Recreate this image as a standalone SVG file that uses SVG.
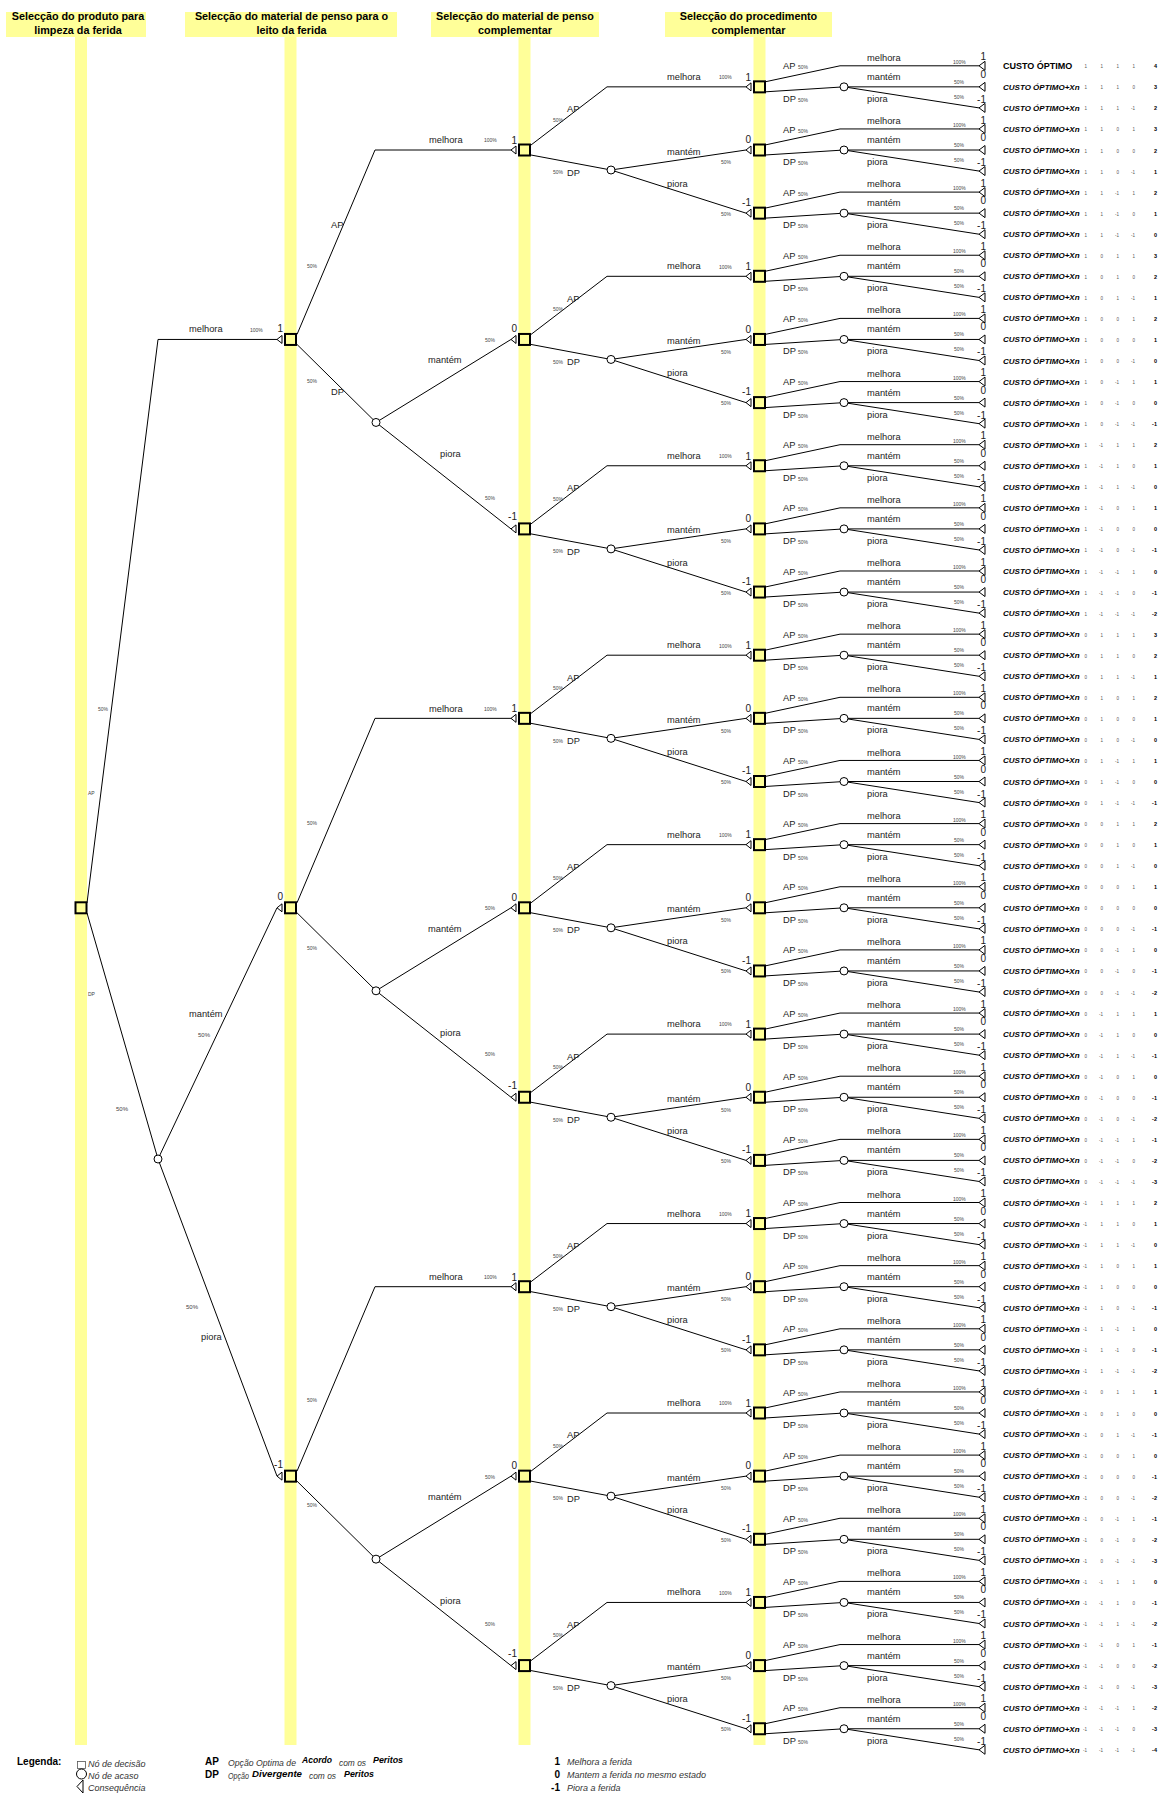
<svg xmlns="http://www.w3.org/2000/svg" xmlns:xlink="http://www.w3.org/1999/xlink" width="1168" height="1796" viewBox="0 0 1168 1796">
<style>
text{font-family:"Liberation Sans",Arial,sans-serif}
.bar{fill:#FFFF99}
.h{font-size:10.8px;font-weight:bold;text-anchor:middle;fill:#000}
.l{font-size:9.3px;fill:#222}
.p{font-size:5px;fill:#444}
.p6{font-size:6px;fill:#444}
.v{font-size:10px;fill:#222;text-anchor:end}
.c0{font-size:9px;font-weight:bold}
.cx{font-size:8px;font-weight:bold;font-style:italic}
.n{font-size:4.5px;fill:#555;text-anchor:end}
.tot{font-size:5.5px;font-weight:bold;text-anchor:end}
.lg{font-size:9px;font-style:italic;fill:#333}
.lb{font-size:9px;font-style:italic;font-weight:bold;fill:#000}
.lk{font-size:10px;font-weight:bold;fill:#000}
</style>
<defs>
<rect id="sq" x="-5.5" y="-5.5" width="11" height="11" fill="none" stroke="#000" stroke-width="2"/>
<circle id="cn" r="4" fill="#fff" stroke="#000" stroke-width="1"/>
<path id="ar" d="M0,0L5,-4V4Z" fill="#fff" stroke="#000" stroke-width="1"/>
<path id="tt" d="M0,0L6,-4.5V4.5Z" fill="#fff" stroke="#000" stroke-width="1"/>
</defs>
<rect width="1168" height="1796" fill="#fff"/>
<g id="columns">
<rect class="bar" x="75" y="37" width="12" height="1708"/>
<rect class="bar" x="284.5" y="37" width="12" height="1708"/>
<rect class="bar" x="518.5" y="37" width="12" height="1708"/>
<rect class="bar" x="753.5" y="37" width="12" height="1708"/>
<rect class="bar" x="6" y="12" width="140" height="25"/>
<rect class="bar" x="185" y="12" width="212" height="25"/>
<rect class="bar" x="431" y="12" width="168" height="25"/>
<rect class="bar" x="665" y="12" width="167" height="25"/>
<text class="h" x="78" y="20">Selecção do produto para</text>
<text class="h" x="78" y="33.5">limpeza da ferida</text>
<text class="h" x="291.5" y="20">Selecção do material de penso para o</text>
<text class="h" x="291.5" y="33.5">leito da ferida</text>
<text class="h" x="515" y="20">Selecção do material de penso</text>
<text class="h" x="515" y="33.5">complementar</text>
<text class="h" x="748.5" y="20">Selecção do procedimento</text>
<text class="h" x="748.5" y="33.5">complementar</text>
</g>
<g id="connectors" fill="none" stroke="#000" stroke-width="1">
<path d="M87,903L158,339.45H277M87,913L158,1159M158,1159L277,907.8M158,1159L277,1476.15"/>
<path transform="translate(0,339.45)" d="M297,-5L375,-189.45H511M297,5L376,83M376,83L511,0M376,83L511,189.45"/>
<path transform="translate(0,907.8)" d="M297,-5L375,-189.45H511M297,5L376,83M376,83L511,0M376,83L511,189.45"/>
<path transform="translate(0,1476.15)" d="M297,-5L375,-189.45H511M297,5L376,83M376,83L511,0M376,83L511,189.45"/>
<path transform="translate(0,150)" d="M531,-5L607,-63.15H746M531,5L611,20L746,0M611,20L746,63.15"/>
<path transform="translate(0,339.45)" d="M531,-5L607,-63.15H746M531,5L611,20L746,0M611,20L746,63.15"/>
<path transform="translate(0,528.9)" d="M531,-5L607,-63.15H746M531,5L611,20L746,0M611,20L746,63.15"/>
<path transform="translate(0,718.35)" d="M531,-5L607,-63.15H746M531,5L611,20L746,0M611,20L746,63.15"/>
<path transform="translate(0,907.8)" d="M531,-5L607,-63.15H746M531,5L611,20L746,0M611,20L746,63.15"/>
<path transform="translate(0,1097.25)" d="M531,-5L607,-63.15H746M531,5L611,20L746,0M611,20L746,63.15"/>
<path transform="translate(0,1286.7)" d="M531,-5L607,-63.15H746M531,5L611,20L746,0M611,20L746,63.15"/>
<path transform="translate(0,1476.15)" d="M531,-5L607,-63.15H746M531,5L611,20L746,0M611,20L746,63.15"/>
<path transform="translate(0,1665.6)" d="M531,-5L607,-63.15H746M531,5L611,20L746,0M611,20L746,63.15"/>
<path transform="translate(0,86.85)" d="M765,-5L840,-21.05H979M765,5L844,0H979M844,0L979,21.05"/>
<path transform="translate(0,150)" d="M765,-5L840,-21.05H979M765,5L844,0H979M844,0L979,21.05"/>
<path transform="translate(0,213.15)" d="M765,-5L840,-21.05H979M765,5L844,0H979M844,0L979,21.05"/>
<path transform="translate(0,276.3)" d="M765,-5L840,-21.05H979M765,5L844,0H979M844,0L979,21.05"/>
<path transform="translate(0,339.45)" d="M765,-5L840,-21.05H979M765,5L844,0H979M844,0L979,21.05"/>
<path transform="translate(0,402.6)" d="M765,-5L840,-21.05H979M765,5L844,0H979M844,0L979,21.05"/>
<path transform="translate(0,465.75)" d="M765,-5L840,-21.05H979M765,5L844,0H979M844,0L979,21.05"/>
<path transform="translate(0,528.9)" d="M765,-5L840,-21.05H979M765,5L844,0H979M844,0L979,21.05"/>
<path transform="translate(0,592.05)" d="M765,-5L840,-21.05H979M765,5L844,0H979M844,0L979,21.05"/>
<path transform="translate(0,655.2)" d="M765,-5L840,-21.05H979M765,5L844,0H979M844,0L979,21.05"/>
<path transform="translate(0,718.35)" d="M765,-5L840,-21.05H979M765,5L844,0H979M844,0L979,21.05"/>
<path transform="translate(0,781.5)" d="M765,-5L840,-21.05H979M765,5L844,0H979M844,0L979,21.05"/>
<path transform="translate(0,844.65)" d="M765,-5L840,-21.05H979M765,5L844,0H979M844,0L979,21.05"/>
<path transform="translate(0,907.8)" d="M765,-5L840,-21.05H979M765,5L844,0H979M844,0L979,21.05"/>
<path transform="translate(0,970.95)" d="M765,-5L840,-21.05H979M765,5L844,0H979M844,0L979,21.05"/>
<path transform="translate(0,1034.1)" d="M765,-5L840,-21.05H979M765,5L844,0H979M844,0L979,21.05"/>
<path transform="translate(0,1097.25)" d="M765,-5L840,-21.05H979M765,5L844,0H979M844,0L979,21.05"/>
<path transform="translate(0,1160.4)" d="M765,-5L840,-21.05H979M765,5L844,0H979M844,0L979,21.05"/>
<path transform="translate(0,1223.55)" d="M765,-5L840,-21.05H979M765,5L844,0H979M844,0L979,21.05"/>
<path transform="translate(0,1286.7)" d="M765,-5L840,-21.05H979M765,5L844,0H979M844,0L979,21.05"/>
<path transform="translate(0,1349.85)" d="M765,-5L840,-21.05H979M765,5L844,0H979M844,0L979,21.05"/>
<path transform="translate(0,1413)" d="M765,-5L840,-21.05H979M765,5L844,0H979M844,0L979,21.05"/>
<path transform="translate(0,1476.15)" d="M765,-5L840,-21.05H979M765,5L844,0H979M844,0L979,21.05"/>
<path transform="translate(0,1539.3)" d="M765,-5L840,-21.05H979M765,5L844,0H979M844,0L979,21.05"/>
<path transform="translate(0,1602.45)" d="M765,-5L840,-21.05H979M765,5L844,0H979M844,0L979,21.05"/>
<path transform="translate(0,1665.6)" d="M765,-5L840,-21.05H979M765,5L844,0H979M844,0L979,21.05"/>
<path transform="translate(0,1728.75)" d="M765,-5L840,-21.05H979M765,5L844,0H979M844,0L979,21.05"/>
</g>
<g id="nodes">
<g id="root"><use href="#sq" x="81" y="907.8"/></g>
<g id="c_root"><use href="#cn" x="158" y="1159"/></g>
<g id="d2_0" transform="translate(0,339.45)"><use href="#ar" x="277"/><use href="#sq" x="290.5"/></g>
<g id="d2_1" transform="translate(0,907.8)"><use href="#ar" x="277"/><use href="#sq" x="290.5"/></g>
<g id="d2_2" transform="translate(0,1476.15)"><use href="#ar" x="277"/><use href="#sq" x="290.5"/></g>
<g id="c2_0" transform="translate(0,339.45)"><use href="#cn" x="376" y="83"/></g>
<g id="c2_1" transform="translate(0,907.8)"><use href="#cn" x="376" y="83"/></g>
<g id="c2_2" transform="translate(0,1476.15)"><use href="#cn" x="376" y="83"/></g>
<g id="d3_0" transform="translate(0,150)"><use href="#ar" x="511"/><use href="#sq" x="524.5"/></g>
<g id="d3_1" transform="translate(0,339.45)"><use href="#ar" x="511"/><use href="#sq" x="524.5"/></g>
<g id="d3_2" transform="translate(0,528.9)"><use href="#ar" x="511"/><use href="#sq" x="524.5"/></g>
<g id="d3_3" transform="translate(0,718.35)"><use href="#ar" x="511"/><use href="#sq" x="524.5"/></g>
<g id="d3_4" transform="translate(0,907.8)"><use href="#ar" x="511"/><use href="#sq" x="524.5"/></g>
<g id="d3_5" transform="translate(0,1097.25)"><use href="#ar" x="511"/><use href="#sq" x="524.5"/></g>
<g id="d3_6" transform="translate(0,1286.7)"><use href="#ar" x="511"/><use href="#sq" x="524.5"/></g>
<g id="d3_7" transform="translate(0,1476.15)"><use href="#ar" x="511"/><use href="#sq" x="524.5"/></g>
<g id="d3_8" transform="translate(0,1665.6)"><use href="#ar" x="511"/><use href="#sq" x="524.5"/></g>
<g id="c3_0" transform="translate(0,150)"><use href="#cn" x="611" y="20"/></g>
<g id="c3_1" transform="translate(0,339.45)"><use href="#cn" x="611" y="20"/></g>
<g id="c3_2" transform="translate(0,528.9)"><use href="#cn" x="611" y="20"/></g>
<g id="c3_3" transform="translate(0,718.35)"><use href="#cn" x="611" y="20"/></g>
<g id="c3_4" transform="translate(0,907.8)"><use href="#cn" x="611" y="20"/></g>
<g id="c3_5" transform="translate(0,1097.25)"><use href="#cn" x="611" y="20"/></g>
<g id="c3_6" transform="translate(0,1286.7)"><use href="#cn" x="611" y="20"/></g>
<g id="c3_7" transform="translate(0,1476.15)"><use href="#cn" x="611" y="20"/></g>
<g id="c3_8" transform="translate(0,1665.6)"><use href="#cn" x="611" y="20"/></g>
<g id="d4_0" transform="translate(0,86.85)"><use href="#ar" x="746"/><use href="#sq" x="759.5"/><use href="#cn" x="844"/></g>
<g id="d4_1" transform="translate(0,150)"><use href="#ar" x="746"/><use href="#sq" x="759.5"/><use href="#cn" x="844"/></g>
<g id="d4_2" transform="translate(0,213.15)"><use href="#ar" x="746"/><use href="#sq" x="759.5"/><use href="#cn" x="844"/></g>
<g id="d4_3" transform="translate(0,276.3)"><use href="#ar" x="746"/><use href="#sq" x="759.5"/><use href="#cn" x="844"/></g>
<g id="d4_4" transform="translate(0,339.45)"><use href="#ar" x="746"/><use href="#sq" x="759.5"/><use href="#cn" x="844"/></g>
<g id="d4_5" transform="translate(0,402.6)"><use href="#ar" x="746"/><use href="#sq" x="759.5"/><use href="#cn" x="844"/></g>
<g id="d4_6" transform="translate(0,465.75)"><use href="#ar" x="746"/><use href="#sq" x="759.5"/><use href="#cn" x="844"/></g>
<g id="d4_7" transform="translate(0,528.9)"><use href="#ar" x="746"/><use href="#sq" x="759.5"/><use href="#cn" x="844"/></g>
<g id="d4_8" transform="translate(0,592.05)"><use href="#ar" x="746"/><use href="#sq" x="759.5"/><use href="#cn" x="844"/></g>
<g id="d4_9" transform="translate(0,655.2)"><use href="#ar" x="746"/><use href="#sq" x="759.5"/><use href="#cn" x="844"/></g>
<g id="d4_10" transform="translate(0,718.35)"><use href="#ar" x="746"/><use href="#sq" x="759.5"/><use href="#cn" x="844"/></g>
<g id="d4_11" transform="translate(0,781.5)"><use href="#ar" x="746"/><use href="#sq" x="759.5"/><use href="#cn" x="844"/></g>
<g id="d4_12" transform="translate(0,844.65)"><use href="#ar" x="746"/><use href="#sq" x="759.5"/><use href="#cn" x="844"/></g>
<g id="d4_13" transform="translate(0,907.8)"><use href="#ar" x="746"/><use href="#sq" x="759.5"/><use href="#cn" x="844"/></g>
<g id="d4_14" transform="translate(0,970.95)"><use href="#ar" x="746"/><use href="#sq" x="759.5"/><use href="#cn" x="844"/></g>
<g id="d4_15" transform="translate(0,1034.1)"><use href="#ar" x="746"/><use href="#sq" x="759.5"/><use href="#cn" x="844"/></g>
<g id="d4_16" transform="translate(0,1097.25)"><use href="#ar" x="746"/><use href="#sq" x="759.5"/><use href="#cn" x="844"/></g>
<g id="d4_17" transform="translate(0,1160.4)"><use href="#ar" x="746"/><use href="#sq" x="759.5"/><use href="#cn" x="844"/></g>
<g id="d4_18" transform="translate(0,1223.55)"><use href="#ar" x="746"/><use href="#sq" x="759.5"/><use href="#cn" x="844"/></g>
<g id="d4_19" transform="translate(0,1286.7)"><use href="#ar" x="746"/><use href="#sq" x="759.5"/><use href="#cn" x="844"/></g>
<g id="d4_20" transform="translate(0,1349.85)"><use href="#ar" x="746"/><use href="#sq" x="759.5"/><use href="#cn" x="844"/></g>
<g id="d4_21" transform="translate(0,1413)"><use href="#ar" x="746"/><use href="#sq" x="759.5"/><use href="#cn" x="844"/></g>
<g id="d4_22" transform="translate(0,1476.15)"><use href="#ar" x="746"/><use href="#sq" x="759.5"/><use href="#cn" x="844"/></g>
<g id="d4_23" transform="translate(0,1539.3)"><use href="#ar" x="746"/><use href="#sq" x="759.5"/><use href="#cn" x="844"/></g>
<g id="d4_24" transform="translate(0,1602.45)"><use href="#ar" x="746"/><use href="#sq" x="759.5"/><use href="#cn" x="844"/></g>
<g id="d4_25" transform="translate(0,1665.6)"><use href="#ar" x="746"/><use href="#sq" x="759.5"/><use href="#cn" x="844"/></g>
<g id="d4_26" transform="translate(0,1728.75)"><use href="#ar" x="746"/><use href="#sq" x="759.5"/><use href="#cn" x="844"/></g>
</g>
<g id="labels" class="l">
<text class="p" x="98" y="711">50%</text><text class="p" x="88" y="795">AP</text><text class="p" x="88" y="996">DP</text><text class="p6" x="116" y="1111">50%</text>
<text x="189" y="332">melhora</text><text class="p" x="250" y="332">100%</text><text class="v" x="283" y="332">1</text>
<text x="189" y="1017">mantém</text><text class="p6" x="198" y="1037">50%</text><text class="v" x="283" y="900">0</text>
<text x="201" y="1340">piora</text><text class="p6" x="186" y="1309">50%</text><text class="v" x="283" y="1468">-1</text>
<g transform="translate(0,339.45)"><text x="331" y="-111">AP</text><text class="p" x="307" y="-71">50%</text><text class="p" x="307" y="44">50%</text><text x="331" y="56">DP</text><text x="429" y="-196.2">melhora</text><text class="p" x="484" y="-197">100%</text><text class="v" x="517" y="-195.5">1</text><text x="428" y="24">mantém</text><text class="p" x="485" y="2.5">50%</text><text class="v" x="517" y="-7">0</text><text x="440" y="118">piora</text><text class="p" x="485" y="161">50%</text><text class="v" x="517" y="181">-1</text></g>
<g transform="translate(0,907.8)"><text class="p" x="307" y="-83">50%</text><text class="p" x="307" y="42">50%</text><text x="429" y="-196.2">melhora</text><text class="p" x="484" y="-197">100%</text><text class="v" x="517" y="-195.5">1</text><text x="428" y="24">mantém</text><text class="p" x="485" y="2.5">50%</text><text class="v" x="517" y="-7">0</text><text x="440" y="128">piora</text><text class="p" x="485" y="148">50%</text><text class="v" x="517" y="181">-1</text></g>
<g transform="translate(0,1476.15)"><text class="p" x="307" y="-74">50%</text><text class="p" x="307" y="31">50%</text><text x="429" y="-196.2">melhora</text><text class="p" x="484" y="-197">100%</text><text class="v" x="517" y="-195.5">1</text><text x="428" y="24">mantém</text><text class="p" x="485" y="2.5">50%</text><text class="v" x="517" y="-7">0</text><text x="440" y="128">piora</text><text class="p" x="485" y="150">50%</text><text class="v" x="517" y="181">-1</text></g>
<g transform="translate(0,150)"><text x="567" y="-37.7">AP</text><text class="p" x="553" y="-28.3">50%</text><text class="p" x="553" y="24.3">50%</text><text x="567" y="25.7">DP</text><text x="667" y="-70.2">melhora</text><text class="p" x="719" y="-70.8">100%</text><text class="v" x="751" y="-69.4">1</text><text x="667" y="4.5">mantém</text><text class="p" x="721" y="14.3">50%</text><text class="v" x="751" y="-6.7">0</text><text x="667" y="36.7">piora</text><text class="p" x="721" y="65.7">50%</text><text class="v" x="751" y="56">-1</text></g>
<g transform="translate(0,339.45)"><text x="567" y="-37.7">AP</text><text class="p" x="553" y="-28.3">50%</text><text class="p" x="553" y="24.3">50%</text><text x="567" y="25.7">DP</text><text x="667" y="-70.2">melhora</text><text class="p" x="719" y="-70.8">100%</text><text class="v" x="751" y="-69.4">1</text><text x="667" y="4.5">mantém</text><text class="p" x="721" y="14.3">50%</text><text class="v" x="751" y="-6.7">0</text><text x="667" y="36.7">piora</text><text class="p" x="721" y="65.7">50%</text><text class="v" x="751" y="56">-1</text></g>
<g transform="translate(0,528.9)"><text x="567" y="-37.7">AP</text><text class="p" x="553" y="-28.3">50%</text><text class="p" x="553" y="24.3">50%</text><text x="567" y="25.7">DP</text><text x="667" y="-70.2">melhora</text><text class="p" x="719" y="-70.8">100%</text><text class="v" x="751" y="-69.4">1</text><text x="667" y="4.5">mantém</text><text class="p" x="721" y="14.3">50%</text><text class="v" x="751" y="-6.7">0</text><text x="667" y="36.7">piora</text><text class="p" x="721" y="65.7">50%</text><text class="v" x="751" y="56">-1</text></g>
<g transform="translate(0,718.35)"><text x="567" y="-37.7">AP</text><text class="p" x="553" y="-28.3">50%</text><text class="p" x="553" y="24.3">50%</text><text x="567" y="25.7">DP</text><text x="667" y="-70.2">melhora</text><text class="p" x="719" y="-70.8">100%</text><text class="v" x="751" y="-69.4">1</text><text x="667" y="4.5">mantém</text><text class="p" x="721" y="14.3">50%</text><text class="v" x="751" y="-6.7">0</text><text x="667" y="36.7">piora</text><text class="p" x="721" y="65.7">50%</text><text class="v" x="751" y="56">-1</text></g>
<g transform="translate(0,907.8)"><text x="567" y="-37.7">AP</text><text class="p" x="553" y="-28.3">50%</text><text class="p" x="553" y="24.3">50%</text><text x="567" y="25.7">DP</text><text x="667" y="-70.2">melhora</text><text class="p" x="719" y="-70.8">100%</text><text class="v" x="751" y="-69.4">1</text><text x="667" y="4.5">mantém</text><text class="p" x="721" y="14.3">50%</text><text class="v" x="751" y="-6.7">0</text><text x="667" y="36.7">piora</text><text class="p" x="721" y="65.7">50%</text><text class="v" x="751" y="56">-1</text></g>
<g transform="translate(0,1097.25)"><text x="567" y="-37.7">AP</text><text class="p" x="553" y="-28.3">50%</text><text class="p" x="553" y="24.3">50%</text><text x="567" y="25.7">DP</text><text x="667" y="-70.2">melhora</text><text class="p" x="719" y="-70.8">100%</text><text class="v" x="751" y="-69.4">1</text><text x="667" y="4.5">mantém</text><text class="p" x="721" y="14.3">50%</text><text class="v" x="751" y="-6.7">0</text><text x="667" y="36.7">piora</text><text class="p" x="721" y="65.7">50%</text><text class="v" x="751" y="56">-1</text></g>
<g transform="translate(0,1286.7)"><text x="567" y="-37.7">AP</text><text class="p" x="553" y="-28.3">50%</text><text class="p" x="553" y="24.3">50%</text><text x="567" y="25.7">DP</text><text x="667" y="-70.2">melhora</text><text class="p" x="719" y="-70.8">100%</text><text class="v" x="751" y="-69.4">1</text><text x="667" y="4.5">mantém</text><text class="p" x="721" y="14.3">50%</text><text class="v" x="751" y="-6.7">0</text><text x="667" y="36.7">piora</text><text class="p" x="721" y="65.7">50%</text><text class="v" x="751" y="56">-1</text></g>
<g transform="translate(0,1476.15)"><text x="567" y="-37.7">AP</text><text class="p" x="553" y="-28.3">50%</text><text class="p" x="553" y="24.3">50%</text><text x="567" y="25.7">DP</text><text x="667" y="-70.2">melhora</text><text class="p" x="719" y="-70.8">100%</text><text class="v" x="751" y="-69.4">1</text><text x="667" y="4.5">mantém</text><text class="p" x="721" y="14.3">50%</text><text class="v" x="751" y="-6.7">0</text><text x="667" y="36.7">piora</text><text class="p" x="721" y="65.7">50%</text><text class="v" x="751" y="56">-1</text></g>
<g transform="translate(0,1665.6)"><text x="567" y="-37.7">AP</text><text class="p" x="553" y="-28.3">50%</text><text class="p" x="553" y="24.3">50%</text><text x="567" y="25.7">DP</text><text x="667" y="-70.2">melhora</text><text class="p" x="719" y="-70.8">100%</text><text class="v" x="751" y="-69.4">1</text><text x="667" y="4.5">mantém</text><text class="p" x="721" y="14.3">50%</text><text class="v" x="751" y="-6.7">0</text><text x="667" y="36.7">piora</text><text class="p" x="721" y="65.7">50%</text><text class="v" x="751" y="56">-1</text></g>
<g transform="translate(0,86.85)"><text x="783" y="-17.5">AP</text><text class="p" x="798" y="-17.5">50%</text><text x="783" y="15">DP</text><text class="p" x="798" y="15">50%</text><text x="867" y="-26">melhora</text><text class="p" x="953" y="-23">100%</text><text class="v" x="986" y="-26.5">1</text><text x="867" y="-7">mantém</text><text class="p" x="954" y="-3">50%</text><text class="v" x="986" y="-9">0</text><text x="867" y="15">piora</text><text class="p" x="954" y="12">50%</text><text class="v" x="986" y="16">-1</text></g>
<g transform="translate(0,150)"><text x="783" y="-17.5">AP</text><text class="p" x="798" y="-17.5">50%</text><text x="783" y="15">DP</text><text class="p" x="798" y="15">50%</text><text x="867" y="-26">melhora</text><text class="p" x="953" y="-23">100%</text><text class="v" x="986" y="-26.5">1</text><text x="867" y="-7">mantém</text><text class="p" x="954" y="-3">50%</text><text class="v" x="986" y="-9">0</text><text x="867" y="15">piora</text><text class="p" x="954" y="12">50%</text><text class="v" x="986" y="16">-1</text></g>
<g transform="translate(0,213.15)"><text x="783" y="-17.5">AP</text><text class="p" x="798" y="-17.5">50%</text><text x="783" y="15">DP</text><text class="p" x="798" y="15">50%</text><text x="867" y="-26">melhora</text><text class="p" x="953" y="-23">100%</text><text class="v" x="986" y="-26.5">1</text><text x="867" y="-7">mantém</text><text class="p" x="954" y="-3">50%</text><text class="v" x="986" y="-9">0</text><text x="867" y="15">piora</text><text class="p" x="954" y="12">50%</text><text class="v" x="986" y="16">-1</text></g>
<g transform="translate(0,276.3)"><text x="783" y="-17.5">AP</text><text class="p" x="798" y="-17.5">50%</text><text x="783" y="15">DP</text><text class="p" x="798" y="15">50%</text><text x="867" y="-26">melhora</text><text class="p" x="953" y="-23">100%</text><text class="v" x="986" y="-26.5">1</text><text x="867" y="-7">mantém</text><text class="p" x="954" y="-3">50%</text><text class="v" x="986" y="-9">0</text><text x="867" y="15">piora</text><text class="p" x="954" y="12">50%</text><text class="v" x="986" y="16">-1</text></g>
<g transform="translate(0,339.45)"><text x="783" y="-17.5">AP</text><text class="p" x="798" y="-17.5">50%</text><text x="783" y="15">DP</text><text class="p" x="798" y="15">50%</text><text x="867" y="-26">melhora</text><text class="p" x="953" y="-23">100%</text><text class="v" x="986" y="-26.5">1</text><text x="867" y="-7">mantém</text><text class="p" x="954" y="-3">50%</text><text class="v" x="986" y="-9">0</text><text x="867" y="15">piora</text><text class="p" x="954" y="12">50%</text><text class="v" x="986" y="16">-1</text></g>
<g transform="translate(0,402.6)"><text x="783" y="-17.5">AP</text><text class="p" x="798" y="-17.5">50%</text><text x="783" y="15">DP</text><text class="p" x="798" y="15">50%</text><text x="867" y="-26">melhora</text><text class="p" x="953" y="-23">100%</text><text class="v" x="986" y="-26.5">1</text><text x="867" y="-7">mantém</text><text class="p" x="954" y="-3">50%</text><text class="v" x="986" y="-9">0</text><text x="867" y="15">piora</text><text class="p" x="954" y="12">50%</text><text class="v" x="986" y="16">-1</text></g>
<g transform="translate(0,465.75)"><text x="783" y="-17.5">AP</text><text class="p" x="798" y="-17.5">50%</text><text x="783" y="15">DP</text><text class="p" x="798" y="15">50%</text><text x="867" y="-26">melhora</text><text class="p" x="953" y="-23">100%</text><text class="v" x="986" y="-26.5">1</text><text x="867" y="-7">mantém</text><text class="p" x="954" y="-3">50%</text><text class="v" x="986" y="-9">0</text><text x="867" y="15">piora</text><text class="p" x="954" y="12">50%</text><text class="v" x="986" y="16">-1</text></g>
<g transform="translate(0,528.9)"><text x="783" y="-17.5">AP</text><text class="p" x="798" y="-17.5">50%</text><text x="783" y="15">DP</text><text class="p" x="798" y="15">50%</text><text x="867" y="-26">melhora</text><text class="p" x="953" y="-23">100%</text><text class="v" x="986" y="-26.5">1</text><text x="867" y="-7">mantém</text><text class="p" x="954" y="-3">50%</text><text class="v" x="986" y="-9">0</text><text x="867" y="15">piora</text><text class="p" x="954" y="12">50%</text><text class="v" x="986" y="16">-1</text></g>
<g transform="translate(0,592.05)"><text x="783" y="-17.5">AP</text><text class="p" x="798" y="-17.5">50%</text><text x="783" y="15">DP</text><text class="p" x="798" y="15">50%</text><text x="867" y="-26">melhora</text><text class="p" x="953" y="-23">100%</text><text class="v" x="986" y="-26.5">1</text><text x="867" y="-7">mantém</text><text class="p" x="954" y="-3">50%</text><text class="v" x="986" y="-9">0</text><text x="867" y="15">piora</text><text class="p" x="954" y="12">50%</text><text class="v" x="986" y="16">-1</text></g>
<g transform="translate(0,655.2)"><text x="783" y="-17.5">AP</text><text class="p" x="798" y="-17.5">50%</text><text x="783" y="15">DP</text><text class="p" x="798" y="15">50%</text><text x="867" y="-26">melhora</text><text class="p" x="953" y="-23">100%</text><text class="v" x="986" y="-26.5">1</text><text x="867" y="-7">mantém</text><text class="p" x="954" y="-3">50%</text><text class="v" x="986" y="-9">0</text><text x="867" y="15">piora</text><text class="p" x="954" y="12">50%</text><text class="v" x="986" y="16">-1</text></g>
<g transform="translate(0,718.35)"><text x="783" y="-17.5">AP</text><text class="p" x="798" y="-17.5">50%</text><text x="783" y="15">DP</text><text class="p" x="798" y="15">50%</text><text x="867" y="-26">melhora</text><text class="p" x="953" y="-23">100%</text><text class="v" x="986" y="-26.5">1</text><text x="867" y="-7">mantém</text><text class="p" x="954" y="-3">50%</text><text class="v" x="986" y="-9">0</text><text x="867" y="15">piora</text><text class="p" x="954" y="12">50%</text><text class="v" x="986" y="16">-1</text></g>
<g transform="translate(0,781.5)"><text x="783" y="-17.5">AP</text><text class="p" x="798" y="-17.5">50%</text><text x="783" y="15">DP</text><text class="p" x="798" y="15">50%</text><text x="867" y="-26">melhora</text><text class="p" x="953" y="-23">100%</text><text class="v" x="986" y="-26.5">1</text><text x="867" y="-7">mantém</text><text class="p" x="954" y="-3">50%</text><text class="v" x="986" y="-9">0</text><text x="867" y="15">piora</text><text class="p" x="954" y="12">50%</text><text class="v" x="986" y="16">-1</text></g>
<g transform="translate(0,844.65)"><text x="783" y="-17.5">AP</text><text class="p" x="798" y="-17.5">50%</text><text x="783" y="15">DP</text><text class="p" x="798" y="15">50%</text><text x="867" y="-26">melhora</text><text class="p" x="953" y="-23">100%</text><text class="v" x="986" y="-26.5">1</text><text x="867" y="-7">mantém</text><text class="p" x="954" y="-3">50%</text><text class="v" x="986" y="-9">0</text><text x="867" y="15">piora</text><text class="p" x="954" y="12">50%</text><text class="v" x="986" y="16">-1</text></g>
<g transform="translate(0,907.8)"><text x="783" y="-17.5">AP</text><text class="p" x="798" y="-17.5">50%</text><text x="783" y="15">DP</text><text class="p" x="798" y="15">50%</text><text x="867" y="-26">melhora</text><text class="p" x="953" y="-23">100%</text><text class="v" x="986" y="-26.5">1</text><text x="867" y="-7">mantém</text><text class="p" x="954" y="-3">50%</text><text class="v" x="986" y="-9">0</text><text x="867" y="15">piora</text><text class="p" x="954" y="12">50%</text><text class="v" x="986" y="16">-1</text></g>
<g transform="translate(0,970.95)"><text x="783" y="-17.5">AP</text><text class="p" x="798" y="-17.5">50%</text><text x="783" y="15">DP</text><text class="p" x="798" y="15">50%</text><text x="867" y="-26">melhora</text><text class="p" x="953" y="-23">100%</text><text class="v" x="986" y="-26.5">1</text><text x="867" y="-7">mantém</text><text class="p" x="954" y="-3">50%</text><text class="v" x="986" y="-9">0</text><text x="867" y="15">piora</text><text class="p" x="954" y="12">50%</text><text class="v" x="986" y="16">-1</text></g>
<g transform="translate(0,1034.1)"><text x="783" y="-17.5">AP</text><text class="p" x="798" y="-17.5">50%</text><text x="783" y="15">DP</text><text class="p" x="798" y="15">50%</text><text x="867" y="-26">melhora</text><text class="p" x="953" y="-23">100%</text><text class="v" x="986" y="-26.5">1</text><text x="867" y="-7">mantém</text><text class="p" x="954" y="-3">50%</text><text class="v" x="986" y="-9">0</text><text x="867" y="15">piora</text><text class="p" x="954" y="12">50%</text><text class="v" x="986" y="16">-1</text></g>
<g transform="translate(0,1097.25)"><text x="783" y="-17.5">AP</text><text class="p" x="798" y="-17.5">50%</text><text x="783" y="15">DP</text><text class="p" x="798" y="15">50%</text><text x="867" y="-26">melhora</text><text class="p" x="953" y="-23">100%</text><text class="v" x="986" y="-26.5">1</text><text x="867" y="-7">mantém</text><text class="p" x="954" y="-3">50%</text><text class="v" x="986" y="-9">0</text><text x="867" y="15">piora</text><text class="p" x="954" y="12">50%</text><text class="v" x="986" y="16">-1</text></g>
<g transform="translate(0,1160.4)"><text x="783" y="-17.5">AP</text><text class="p" x="798" y="-17.5">50%</text><text x="783" y="15">DP</text><text class="p" x="798" y="15">50%</text><text x="867" y="-26">melhora</text><text class="p" x="953" y="-23">100%</text><text class="v" x="986" y="-26.5">1</text><text x="867" y="-7">mantém</text><text class="p" x="954" y="-3">50%</text><text class="v" x="986" y="-9">0</text><text x="867" y="15">piora</text><text class="p" x="954" y="12">50%</text><text class="v" x="986" y="16">-1</text></g>
<g transform="translate(0,1223.55)"><text x="783" y="-17.5">AP</text><text class="p" x="798" y="-17.5">50%</text><text x="783" y="15">DP</text><text class="p" x="798" y="15">50%</text><text x="867" y="-26">melhora</text><text class="p" x="953" y="-23">100%</text><text class="v" x="986" y="-26.5">1</text><text x="867" y="-7">mantém</text><text class="p" x="954" y="-3">50%</text><text class="v" x="986" y="-9">0</text><text x="867" y="15">piora</text><text class="p" x="954" y="12">50%</text><text class="v" x="986" y="16">-1</text></g>
<g transform="translate(0,1286.7)"><text x="783" y="-17.5">AP</text><text class="p" x="798" y="-17.5">50%</text><text x="783" y="15">DP</text><text class="p" x="798" y="15">50%</text><text x="867" y="-26">melhora</text><text class="p" x="953" y="-23">100%</text><text class="v" x="986" y="-26.5">1</text><text x="867" y="-7">mantém</text><text class="p" x="954" y="-3">50%</text><text class="v" x="986" y="-9">0</text><text x="867" y="15">piora</text><text class="p" x="954" y="12">50%</text><text class="v" x="986" y="16">-1</text></g>
<g transform="translate(0,1349.85)"><text x="783" y="-17.5">AP</text><text class="p" x="798" y="-17.5">50%</text><text x="783" y="15">DP</text><text class="p" x="798" y="15">50%</text><text x="867" y="-26">melhora</text><text class="p" x="953" y="-23">100%</text><text class="v" x="986" y="-26.5">1</text><text x="867" y="-7">mantém</text><text class="p" x="954" y="-3">50%</text><text class="v" x="986" y="-9">0</text><text x="867" y="15">piora</text><text class="p" x="954" y="12">50%</text><text class="v" x="986" y="16">-1</text></g>
<g transform="translate(0,1413)"><text x="783" y="-17.5">AP</text><text class="p" x="798" y="-17.5">50%</text><text x="783" y="15">DP</text><text class="p" x="798" y="15">50%</text><text x="867" y="-26">melhora</text><text class="p" x="953" y="-23">100%</text><text class="v" x="986" y="-26.5">1</text><text x="867" y="-7">mantém</text><text class="p" x="954" y="-3">50%</text><text class="v" x="986" y="-9">0</text><text x="867" y="15">piora</text><text class="p" x="954" y="12">50%</text><text class="v" x="986" y="16">-1</text></g>
<g transform="translate(0,1476.15)"><text x="783" y="-17.5">AP</text><text class="p" x="798" y="-17.5">50%</text><text x="783" y="15">DP</text><text class="p" x="798" y="15">50%</text><text x="867" y="-26">melhora</text><text class="p" x="953" y="-23">100%</text><text class="v" x="986" y="-26.5">1</text><text x="867" y="-7">mantém</text><text class="p" x="954" y="-3">50%</text><text class="v" x="986" y="-9">0</text><text x="867" y="15">piora</text><text class="p" x="954" y="12">50%</text><text class="v" x="986" y="16">-1</text></g>
<g transform="translate(0,1539.3)"><text x="783" y="-17.5">AP</text><text class="p" x="798" y="-17.5">50%</text><text x="783" y="15">DP</text><text class="p" x="798" y="15">50%</text><text x="867" y="-26">melhora</text><text class="p" x="953" y="-23">100%</text><text class="v" x="986" y="-26.5">1</text><text x="867" y="-7">mantém</text><text class="p" x="954" y="-3">50%</text><text class="v" x="986" y="-9">0</text><text x="867" y="15">piora</text><text class="p" x="954" y="12">50%</text><text class="v" x="986" y="16">-1</text></g>
<g transform="translate(0,1602.45)"><text x="783" y="-17.5">AP</text><text class="p" x="798" y="-17.5">50%</text><text x="783" y="15">DP</text><text class="p" x="798" y="15">50%</text><text x="867" y="-26">melhora</text><text class="p" x="953" y="-23">100%</text><text class="v" x="986" y="-26.5">1</text><text x="867" y="-7">mantém</text><text class="p" x="954" y="-3">50%</text><text class="v" x="986" y="-9">0</text><text x="867" y="15">piora</text><text class="p" x="954" y="12">50%</text><text class="v" x="986" y="16">-1</text></g>
<g transform="translate(0,1665.6)"><text x="783" y="-17.5">AP</text><text class="p" x="798" y="-17.5">50%</text><text x="783" y="15">DP</text><text class="p" x="798" y="15">50%</text><text x="867" y="-26">melhora</text><text class="p" x="953" y="-23">100%</text><text class="v" x="986" y="-26.5">1</text><text x="867" y="-7">mantém</text><text class="p" x="954" y="-3">50%</text><text class="v" x="986" y="-9">0</text><text x="867" y="15">piora</text><text class="p" x="954" y="12">50%</text><text class="v" x="986" y="16">-1</text></g>
<g transform="translate(0,1728.75)"><text x="783" y="-17.5">AP</text><text class="p" x="798" y="-17.5">50%</text><text x="783" y="15">DP</text><text class="p" x="798" y="15">50%</text><text x="867" y="-26">melhora</text><text class="p" x="953" y="-23">100%</text><text class="v" x="986" y="-26.5">1</text><text x="867" y="-7">mantém</text><text class="p" x="954" y="-3">50%</text><text class="v" x="986" y="-9">0</text><text x="867" y="15">piora</text><text class="p" x="954" y="12">50%</text><text class="v" x="986" y="16">-1</text></g>
</g>
<g id="terminals">
<g id="t0" transform="translate(0,65.8)"><use href="#tt" x="979"/><text class="c0" x="1003" y="3.5">CUSTO ÓPTIMO</text><text class="n" y="2.5"><tspan x="1087">1</tspan><tspan x="1103">1</tspan><tspan x="1119">1</tspan><tspan x="1135">1</tspan></text><text class="tot" x="1157" y="2.5">4</text></g>
<g id="t1" transform="translate(0,86.85)"><use href="#tt" x="979"/><text class="cx" x="1003" y="3">CUSTO ÓPTIMO+Xn</text><text class="n" y="2.5"><tspan x="1087">1</tspan><tspan x="1103">1</tspan><tspan x="1119">1</tspan><tspan x="1135">0</tspan></text><text class="tot" x="1157" y="2.5">3</text></g>
<g id="t2" transform="translate(0,107.9)"><use href="#tt" x="979"/><text class="cx" x="1003" y="3">CUSTO ÓPTIMO+Xn</text><text class="n" y="2.5"><tspan x="1087">1</tspan><tspan x="1103">1</tspan><tspan x="1119">1</tspan><tspan x="1135">-1</tspan></text><text class="tot" x="1157" y="2.5">2</text></g>
<g id="t3" transform="translate(0,128.95)"><use href="#tt" x="979"/><text class="cx" x="1003" y="3">CUSTO ÓPTIMO+Xn</text><text class="n" y="2.5"><tspan x="1087">1</tspan><tspan x="1103">1</tspan><tspan x="1119">0</tspan><tspan x="1135">1</tspan></text><text class="tot" x="1157" y="2.5">3</text></g>
<g id="t4" transform="translate(0,150)"><use href="#tt" x="979"/><text class="cx" x="1003" y="3">CUSTO ÓPTIMO+Xn</text><text class="n" y="2.5"><tspan x="1087">1</tspan><tspan x="1103">1</tspan><tspan x="1119">0</tspan><tspan x="1135">0</tspan></text><text class="tot" x="1157" y="2.5">2</text></g>
<g id="t5" transform="translate(0,171.05)"><use href="#tt" x="979"/><text class="cx" x="1003" y="3">CUSTO ÓPTIMO+Xn</text><text class="n" y="2.5"><tspan x="1087">1</tspan><tspan x="1103">1</tspan><tspan x="1119">0</tspan><tspan x="1135">-1</tspan></text><text class="tot" x="1157" y="2.5">1</text></g>
<g id="t6" transform="translate(0,192.1)"><use href="#tt" x="979"/><text class="cx" x="1003" y="3">CUSTO ÓPTIMO+Xn</text><text class="n" y="2.5"><tspan x="1087">1</tspan><tspan x="1103">1</tspan><tspan x="1119">-1</tspan><tspan x="1135">1</tspan></text><text class="tot" x="1157" y="2.5">2</text></g>
<g id="t7" transform="translate(0,213.15)"><use href="#tt" x="979"/><text class="cx" x="1003" y="3">CUSTO ÓPTIMO+Xn</text><text class="n" y="2.5"><tspan x="1087">1</tspan><tspan x="1103">1</tspan><tspan x="1119">-1</tspan><tspan x="1135">0</tspan></text><text class="tot" x="1157" y="2.5">1</text></g>
<g id="t8" transform="translate(0,234.2)"><use href="#tt" x="979"/><text class="cx" x="1003" y="3">CUSTO ÓPTIMO+Xn</text><text class="n" y="2.5"><tspan x="1087">1</tspan><tspan x="1103">1</tspan><tspan x="1119">-1</tspan><tspan x="1135">-1</tspan></text><text class="tot" x="1157" y="2.5">0</text></g>
<g id="t9" transform="translate(0,255.25)"><use href="#tt" x="979"/><text class="cx" x="1003" y="3">CUSTO ÓPTIMO+Xn</text><text class="n" y="2.5"><tspan x="1087">1</tspan><tspan x="1103">0</tspan><tspan x="1119">1</tspan><tspan x="1135">1</tspan></text><text class="tot" x="1157" y="2.5">3</text></g>
<g id="t10" transform="translate(0,276.3)"><use href="#tt" x="979"/><text class="cx" x="1003" y="3">CUSTO ÓPTIMO+Xn</text><text class="n" y="2.5"><tspan x="1087">1</tspan><tspan x="1103">0</tspan><tspan x="1119">1</tspan><tspan x="1135">0</tspan></text><text class="tot" x="1157" y="2.5">2</text></g>
<g id="t11" transform="translate(0,297.35)"><use href="#tt" x="979"/><text class="cx" x="1003" y="3">CUSTO ÓPTIMO+Xn</text><text class="n" y="2.5"><tspan x="1087">1</tspan><tspan x="1103">0</tspan><tspan x="1119">1</tspan><tspan x="1135">-1</tspan></text><text class="tot" x="1157" y="2.5">1</text></g>
<g id="t12" transform="translate(0,318.4)"><use href="#tt" x="979"/><text class="cx" x="1003" y="3">CUSTO ÓPTIMO+Xn</text><text class="n" y="2.5"><tspan x="1087">1</tspan><tspan x="1103">0</tspan><tspan x="1119">0</tspan><tspan x="1135">1</tspan></text><text class="tot" x="1157" y="2.5">2</text></g>
<g id="t13" transform="translate(0,339.45)"><use href="#tt" x="979"/><text class="cx" x="1003" y="3">CUSTO ÓPTIMO+Xn</text><text class="n" y="2.5"><tspan x="1087">1</tspan><tspan x="1103">0</tspan><tspan x="1119">0</tspan><tspan x="1135">0</tspan></text><text class="tot" x="1157" y="2.5">1</text></g>
<g id="t14" transform="translate(0,360.5)"><use href="#tt" x="979"/><text class="cx" x="1003" y="3">CUSTO ÓPTIMO+Xn</text><text class="n" y="2.5"><tspan x="1087">1</tspan><tspan x="1103">0</tspan><tspan x="1119">0</tspan><tspan x="1135">-1</tspan></text><text class="tot" x="1157" y="2.5">0</text></g>
<g id="t15" transform="translate(0,381.55)"><use href="#tt" x="979"/><text class="cx" x="1003" y="3">CUSTO ÓPTIMO+Xn</text><text class="n" y="2.5"><tspan x="1087">1</tspan><tspan x="1103">0</tspan><tspan x="1119">-1</tspan><tspan x="1135">1</tspan></text><text class="tot" x="1157" y="2.5">1</text></g>
<g id="t16" transform="translate(0,402.6)"><use href="#tt" x="979"/><text class="cx" x="1003" y="3">CUSTO ÓPTIMO+Xn</text><text class="n" y="2.5"><tspan x="1087">1</tspan><tspan x="1103">0</tspan><tspan x="1119">-1</tspan><tspan x="1135">0</tspan></text><text class="tot" x="1157" y="2.5">0</text></g>
<g id="t17" transform="translate(0,423.65)"><use href="#tt" x="979"/><text class="cx" x="1003" y="3">CUSTO ÓPTIMO+Xn</text><text class="n" y="2.5"><tspan x="1087">1</tspan><tspan x="1103">0</tspan><tspan x="1119">-1</tspan><tspan x="1135">-1</tspan></text><text class="tot" x="1157" y="2.5">-1</text></g>
<g id="t18" transform="translate(0,444.7)"><use href="#tt" x="979"/><text class="cx" x="1003" y="3">CUSTO ÓPTIMO+Xn</text><text class="n" y="2.5"><tspan x="1087">1</tspan><tspan x="1103">-1</tspan><tspan x="1119">1</tspan><tspan x="1135">1</tspan></text><text class="tot" x="1157" y="2.5">2</text></g>
<g id="t19" transform="translate(0,465.75)"><use href="#tt" x="979"/><text class="cx" x="1003" y="3">CUSTO ÓPTIMO+Xn</text><text class="n" y="2.5"><tspan x="1087">1</tspan><tspan x="1103">-1</tspan><tspan x="1119">1</tspan><tspan x="1135">0</tspan></text><text class="tot" x="1157" y="2.5">1</text></g>
<g id="t20" transform="translate(0,486.8)"><use href="#tt" x="979"/><text class="cx" x="1003" y="3">CUSTO ÓPTIMO+Xn</text><text class="n" y="2.5"><tspan x="1087">1</tspan><tspan x="1103">-1</tspan><tspan x="1119">1</tspan><tspan x="1135">-1</tspan></text><text class="tot" x="1157" y="2.5">0</text></g>
<g id="t21" transform="translate(0,507.85)"><use href="#tt" x="979"/><text class="cx" x="1003" y="3">CUSTO ÓPTIMO+Xn</text><text class="n" y="2.5"><tspan x="1087">1</tspan><tspan x="1103">-1</tspan><tspan x="1119">0</tspan><tspan x="1135">1</tspan></text><text class="tot" x="1157" y="2.5">1</text></g>
<g id="t22" transform="translate(0,528.9)"><use href="#tt" x="979"/><text class="cx" x="1003" y="3">CUSTO ÓPTIMO+Xn</text><text class="n" y="2.5"><tspan x="1087">1</tspan><tspan x="1103">-1</tspan><tspan x="1119">0</tspan><tspan x="1135">0</tspan></text><text class="tot" x="1157" y="2.5">0</text></g>
<g id="t23" transform="translate(0,549.95)"><use href="#tt" x="979"/><text class="cx" x="1003" y="3">CUSTO ÓPTIMO+Xn</text><text class="n" y="2.5"><tspan x="1087">1</tspan><tspan x="1103">-1</tspan><tspan x="1119">0</tspan><tspan x="1135">-1</tspan></text><text class="tot" x="1157" y="2.5">-1</text></g>
<g id="t24" transform="translate(0,571)"><use href="#tt" x="979"/><text class="cx" x="1003" y="3">CUSTO ÓPTIMO+Xn</text><text class="n" y="2.5"><tspan x="1087">1</tspan><tspan x="1103">-1</tspan><tspan x="1119">-1</tspan><tspan x="1135">1</tspan></text><text class="tot" x="1157" y="2.5">0</text></g>
<g id="t25" transform="translate(0,592.05)"><use href="#tt" x="979"/><text class="cx" x="1003" y="3">CUSTO ÓPTIMO+Xn</text><text class="n" y="2.5"><tspan x="1087">1</tspan><tspan x="1103">-1</tspan><tspan x="1119">-1</tspan><tspan x="1135">0</tspan></text><text class="tot" x="1157" y="2.5">-1</text></g>
<g id="t26" transform="translate(0,613.1)"><use href="#tt" x="979"/><text class="cx" x="1003" y="3">CUSTO ÓPTIMO+Xn</text><text class="n" y="2.5"><tspan x="1087">1</tspan><tspan x="1103">-1</tspan><tspan x="1119">-1</tspan><tspan x="1135">-1</tspan></text><text class="tot" x="1157" y="2.5">-2</text></g>
<g id="t27" transform="translate(0,634.15)"><use href="#tt" x="979"/><text class="cx" x="1003" y="3">CUSTO ÓPTIMO+Xn</text><text class="n" y="2.5"><tspan x="1087">0</tspan><tspan x="1103">1</tspan><tspan x="1119">1</tspan><tspan x="1135">1</tspan></text><text class="tot" x="1157" y="2.5">3</text></g>
<g id="t28" transform="translate(0,655.2)"><use href="#tt" x="979"/><text class="cx" x="1003" y="3">CUSTO ÓPTIMO+Xn</text><text class="n" y="2.5"><tspan x="1087">0</tspan><tspan x="1103">1</tspan><tspan x="1119">1</tspan><tspan x="1135">0</tspan></text><text class="tot" x="1157" y="2.5">2</text></g>
<g id="t29" transform="translate(0,676.25)"><use href="#tt" x="979"/><text class="cx" x="1003" y="3">CUSTO ÓPTIMO+Xn</text><text class="n" y="2.5"><tspan x="1087">0</tspan><tspan x="1103">1</tspan><tspan x="1119">1</tspan><tspan x="1135">-1</tspan></text><text class="tot" x="1157" y="2.5">1</text></g>
<g id="t30" transform="translate(0,697.3)"><use href="#tt" x="979"/><text class="cx" x="1003" y="3">CUSTO ÓPTIMO+Xn</text><text class="n" y="2.5"><tspan x="1087">0</tspan><tspan x="1103">1</tspan><tspan x="1119">0</tspan><tspan x="1135">1</tspan></text><text class="tot" x="1157" y="2.5">2</text></g>
<g id="t31" transform="translate(0,718.35)"><use href="#tt" x="979"/><text class="cx" x="1003" y="3">CUSTO ÓPTIMO+Xn</text><text class="n" y="2.5"><tspan x="1087">0</tspan><tspan x="1103">1</tspan><tspan x="1119">0</tspan><tspan x="1135">0</tspan></text><text class="tot" x="1157" y="2.5">1</text></g>
<g id="t32" transform="translate(0,739.4)"><use href="#tt" x="979"/><text class="cx" x="1003" y="3">CUSTO ÓPTIMO+Xn</text><text class="n" y="2.5"><tspan x="1087">0</tspan><tspan x="1103">1</tspan><tspan x="1119">0</tspan><tspan x="1135">-1</tspan></text><text class="tot" x="1157" y="2.5">0</text></g>
<g id="t33" transform="translate(0,760.45)"><use href="#tt" x="979"/><text class="cx" x="1003" y="3">CUSTO ÓPTIMO+Xn</text><text class="n" y="2.5"><tspan x="1087">0</tspan><tspan x="1103">1</tspan><tspan x="1119">-1</tspan><tspan x="1135">1</tspan></text><text class="tot" x="1157" y="2.5">1</text></g>
<g id="t34" transform="translate(0,781.5)"><use href="#tt" x="979"/><text class="cx" x="1003" y="3">CUSTO ÓPTIMO+Xn</text><text class="n" y="2.5"><tspan x="1087">0</tspan><tspan x="1103">1</tspan><tspan x="1119">-1</tspan><tspan x="1135">0</tspan></text><text class="tot" x="1157" y="2.5">0</text></g>
<g id="t35" transform="translate(0,802.55)"><use href="#tt" x="979"/><text class="cx" x="1003" y="3">CUSTO ÓPTIMO+Xn</text><text class="n" y="2.5"><tspan x="1087">0</tspan><tspan x="1103">1</tspan><tspan x="1119">-1</tspan><tspan x="1135">-1</tspan></text><text class="tot" x="1157" y="2.5">-1</text></g>
<g id="t36" transform="translate(0,823.6)"><use href="#tt" x="979"/><text class="cx" x="1003" y="3">CUSTO ÓPTIMO+Xn</text><text class="n" y="2.5"><tspan x="1087">0</tspan><tspan x="1103">0</tspan><tspan x="1119">1</tspan><tspan x="1135">1</tspan></text><text class="tot" x="1157" y="2.5">2</text></g>
<g id="t37" transform="translate(0,844.65)"><use href="#tt" x="979"/><text class="cx" x="1003" y="3">CUSTO ÓPTIMO+Xn</text><text class="n" y="2.5"><tspan x="1087">0</tspan><tspan x="1103">0</tspan><tspan x="1119">1</tspan><tspan x="1135">0</tspan></text><text class="tot" x="1157" y="2.5">1</text></g>
<g id="t38" transform="translate(0,865.7)"><use href="#tt" x="979"/><text class="cx" x="1003" y="3">CUSTO ÓPTIMO+Xn</text><text class="n" y="2.5"><tspan x="1087">0</tspan><tspan x="1103">0</tspan><tspan x="1119">1</tspan><tspan x="1135">-1</tspan></text><text class="tot" x="1157" y="2.5">0</text></g>
<g id="t39" transform="translate(0,886.75)"><use href="#tt" x="979"/><text class="cx" x="1003" y="3">CUSTO ÓPTIMO+Xn</text><text class="n" y="2.5"><tspan x="1087">0</tspan><tspan x="1103">0</tspan><tspan x="1119">0</tspan><tspan x="1135">1</tspan></text><text class="tot" x="1157" y="2.5">1</text></g>
<g id="t40" transform="translate(0,907.8)"><use href="#tt" x="979"/><text class="cx" x="1003" y="3">CUSTO ÓPTIMO+Xn</text><text class="n" y="2.5"><tspan x="1087">0</tspan><tspan x="1103">0</tspan><tspan x="1119">0</tspan><tspan x="1135">0</tspan></text><text class="tot" x="1157" y="2.5">0</text></g>
<g id="t41" transform="translate(0,928.85)"><use href="#tt" x="979"/><text class="cx" x="1003" y="3">CUSTO ÓPTIMO+Xn</text><text class="n" y="2.5"><tspan x="1087">0</tspan><tspan x="1103">0</tspan><tspan x="1119">0</tspan><tspan x="1135">-1</tspan></text><text class="tot" x="1157" y="2.5">-1</text></g>
<g id="t42" transform="translate(0,949.9)"><use href="#tt" x="979"/><text class="cx" x="1003" y="3">CUSTO ÓPTIMO+Xn</text><text class="n" y="2.5"><tspan x="1087">0</tspan><tspan x="1103">0</tspan><tspan x="1119">-1</tspan><tspan x="1135">1</tspan></text><text class="tot" x="1157" y="2.5">0</text></g>
<g id="t43" transform="translate(0,970.95)"><use href="#tt" x="979"/><text class="cx" x="1003" y="3">CUSTO ÓPTIMO+Xn</text><text class="n" y="2.5"><tspan x="1087">0</tspan><tspan x="1103">0</tspan><tspan x="1119">-1</tspan><tspan x="1135">0</tspan></text><text class="tot" x="1157" y="2.5">-1</text></g>
<g id="t44" transform="translate(0,992)"><use href="#tt" x="979"/><text class="cx" x="1003" y="3">CUSTO ÓPTIMO+Xn</text><text class="n" y="2.5"><tspan x="1087">0</tspan><tspan x="1103">0</tspan><tspan x="1119">-1</tspan><tspan x="1135">-1</tspan></text><text class="tot" x="1157" y="2.5">-2</text></g>
<g id="t45" transform="translate(0,1013.05)"><use href="#tt" x="979"/><text class="cx" x="1003" y="3">CUSTO ÓPTIMO+Xn</text><text class="n" y="2.5"><tspan x="1087">0</tspan><tspan x="1103">-1</tspan><tspan x="1119">1</tspan><tspan x="1135">1</tspan></text><text class="tot" x="1157" y="2.5">1</text></g>
<g id="t46" transform="translate(0,1034.1)"><use href="#tt" x="979"/><text class="cx" x="1003" y="3">CUSTO ÓPTIMO+Xn</text><text class="n" y="2.5"><tspan x="1087">0</tspan><tspan x="1103">-1</tspan><tspan x="1119">1</tspan><tspan x="1135">0</tspan></text><text class="tot" x="1157" y="2.5">0</text></g>
<g id="t47" transform="translate(0,1055.15)"><use href="#tt" x="979"/><text class="cx" x="1003" y="3">CUSTO ÓPTIMO+Xn</text><text class="n" y="2.5"><tspan x="1087">0</tspan><tspan x="1103">-1</tspan><tspan x="1119">1</tspan><tspan x="1135">-1</tspan></text><text class="tot" x="1157" y="2.5">-1</text></g>
<g id="t48" transform="translate(0,1076.2)"><use href="#tt" x="979"/><text class="cx" x="1003" y="3">CUSTO ÓPTIMO+Xn</text><text class="n" y="2.5"><tspan x="1087">0</tspan><tspan x="1103">-1</tspan><tspan x="1119">0</tspan><tspan x="1135">1</tspan></text><text class="tot" x="1157" y="2.5">0</text></g>
<g id="t49" transform="translate(0,1097.25)"><use href="#tt" x="979"/><text class="cx" x="1003" y="3">CUSTO ÓPTIMO+Xn</text><text class="n" y="2.5"><tspan x="1087">0</tspan><tspan x="1103">-1</tspan><tspan x="1119">0</tspan><tspan x="1135">0</tspan></text><text class="tot" x="1157" y="2.5">-1</text></g>
<g id="t50" transform="translate(0,1118.3)"><use href="#tt" x="979"/><text class="cx" x="1003" y="3">CUSTO ÓPTIMO+Xn</text><text class="n" y="2.5"><tspan x="1087">0</tspan><tspan x="1103">-1</tspan><tspan x="1119">0</tspan><tspan x="1135">-1</tspan></text><text class="tot" x="1157" y="2.5">-2</text></g>
<g id="t51" transform="translate(0,1139.35)"><use href="#tt" x="979"/><text class="cx" x="1003" y="3">CUSTO ÓPTIMO+Xn</text><text class="n" y="2.5"><tspan x="1087">0</tspan><tspan x="1103">-1</tspan><tspan x="1119">-1</tspan><tspan x="1135">1</tspan></text><text class="tot" x="1157" y="2.5">-1</text></g>
<g id="t52" transform="translate(0,1160.4)"><use href="#tt" x="979"/><text class="cx" x="1003" y="3">CUSTO ÓPTIMO+Xn</text><text class="n" y="2.5"><tspan x="1087">0</tspan><tspan x="1103">-1</tspan><tspan x="1119">-1</tspan><tspan x="1135">0</tspan></text><text class="tot" x="1157" y="2.5">-2</text></g>
<g id="t53" transform="translate(0,1181.45)"><use href="#tt" x="979"/><text class="cx" x="1003" y="3">CUSTO ÓPTIMO+Xn</text><text class="n" y="2.5"><tspan x="1087">0</tspan><tspan x="1103">-1</tspan><tspan x="1119">-1</tspan><tspan x="1135">-1</tspan></text><text class="tot" x="1157" y="2.5">-3</text></g>
<g id="t54" transform="translate(0,1202.5)"><use href="#tt" x="979"/><text class="cx" x="1003" y="3">CUSTO ÓPTIMO+Xn</text><text class="n" y="2.5"><tspan x="1087">-1</tspan><tspan x="1103">1</tspan><tspan x="1119">1</tspan><tspan x="1135">1</tspan></text><text class="tot" x="1157" y="2.5">2</text></g>
<g id="t55" transform="translate(0,1223.55)"><use href="#tt" x="979"/><text class="cx" x="1003" y="3">CUSTO ÓPTIMO+Xn</text><text class="n" y="2.5"><tspan x="1087">-1</tspan><tspan x="1103">1</tspan><tspan x="1119">1</tspan><tspan x="1135">0</tspan></text><text class="tot" x="1157" y="2.5">1</text></g>
<g id="t56" transform="translate(0,1244.6)"><use href="#tt" x="979"/><text class="cx" x="1003" y="3">CUSTO ÓPTIMO+Xn</text><text class="n" y="2.5"><tspan x="1087">-1</tspan><tspan x="1103">1</tspan><tspan x="1119">1</tspan><tspan x="1135">-1</tspan></text><text class="tot" x="1157" y="2.5">0</text></g>
<g id="t57" transform="translate(0,1265.65)"><use href="#tt" x="979"/><text class="cx" x="1003" y="3">CUSTO ÓPTIMO+Xn</text><text class="n" y="2.5"><tspan x="1087">-1</tspan><tspan x="1103">1</tspan><tspan x="1119">0</tspan><tspan x="1135">1</tspan></text><text class="tot" x="1157" y="2.5">1</text></g>
<g id="t58" transform="translate(0,1286.7)"><use href="#tt" x="979"/><text class="cx" x="1003" y="3">CUSTO ÓPTIMO+Xn</text><text class="n" y="2.5"><tspan x="1087">-1</tspan><tspan x="1103">1</tspan><tspan x="1119">0</tspan><tspan x="1135">0</tspan></text><text class="tot" x="1157" y="2.5">0</text></g>
<g id="t59" transform="translate(0,1307.75)"><use href="#tt" x="979"/><text class="cx" x="1003" y="3">CUSTO ÓPTIMO+Xn</text><text class="n" y="2.5"><tspan x="1087">-1</tspan><tspan x="1103">1</tspan><tspan x="1119">0</tspan><tspan x="1135">-1</tspan></text><text class="tot" x="1157" y="2.5">-1</text></g>
<g id="t60" transform="translate(0,1328.8)"><use href="#tt" x="979"/><text class="cx" x="1003" y="3">CUSTO ÓPTIMO+Xn</text><text class="n" y="2.5"><tspan x="1087">-1</tspan><tspan x="1103">1</tspan><tspan x="1119">-1</tspan><tspan x="1135">1</tspan></text><text class="tot" x="1157" y="2.5">0</text></g>
<g id="t61" transform="translate(0,1349.85)"><use href="#tt" x="979"/><text class="cx" x="1003" y="3">CUSTO ÓPTIMO+Xn</text><text class="n" y="2.5"><tspan x="1087">-1</tspan><tspan x="1103">1</tspan><tspan x="1119">-1</tspan><tspan x="1135">0</tspan></text><text class="tot" x="1157" y="2.5">-1</text></g>
<g id="t62" transform="translate(0,1370.9)"><use href="#tt" x="979"/><text class="cx" x="1003" y="3">CUSTO ÓPTIMO+Xn</text><text class="n" y="2.5"><tspan x="1087">-1</tspan><tspan x="1103">1</tspan><tspan x="1119">-1</tspan><tspan x="1135">-1</tspan></text><text class="tot" x="1157" y="2.5">-2</text></g>
<g id="t63" transform="translate(0,1391.95)"><use href="#tt" x="979"/><text class="cx" x="1003" y="3">CUSTO ÓPTIMO+Xn</text><text class="n" y="2.5"><tspan x="1087">-1</tspan><tspan x="1103">0</tspan><tspan x="1119">1</tspan><tspan x="1135">1</tspan></text><text class="tot" x="1157" y="2.5">1</text></g>
<g id="t64" transform="translate(0,1413)"><use href="#tt" x="979"/><text class="cx" x="1003" y="3">CUSTO ÓPTIMO+Xn</text><text class="n" y="2.5"><tspan x="1087">-1</tspan><tspan x="1103">0</tspan><tspan x="1119">1</tspan><tspan x="1135">0</tspan></text><text class="tot" x="1157" y="2.5">0</text></g>
<g id="t65" transform="translate(0,1434.05)"><use href="#tt" x="979"/><text class="cx" x="1003" y="3">CUSTO ÓPTIMO+Xn</text><text class="n" y="2.5"><tspan x="1087">-1</tspan><tspan x="1103">0</tspan><tspan x="1119">1</tspan><tspan x="1135">-1</tspan></text><text class="tot" x="1157" y="2.5">-1</text></g>
<g id="t66" transform="translate(0,1455.1)"><use href="#tt" x="979"/><text class="cx" x="1003" y="3">CUSTO ÓPTIMO+Xn</text><text class="n" y="2.5"><tspan x="1087">-1</tspan><tspan x="1103">0</tspan><tspan x="1119">0</tspan><tspan x="1135">1</tspan></text><text class="tot" x="1157" y="2.5">0</text></g>
<g id="t67" transform="translate(0,1476.15)"><use href="#tt" x="979"/><text class="cx" x="1003" y="3">CUSTO ÓPTIMO+Xn</text><text class="n" y="2.5"><tspan x="1087">-1</tspan><tspan x="1103">0</tspan><tspan x="1119">0</tspan><tspan x="1135">0</tspan></text><text class="tot" x="1157" y="2.5">-1</text></g>
<g id="t68" transform="translate(0,1497.2)"><use href="#tt" x="979"/><text class="cx" x="1003" y="3">CUSTO ÓPTIMO+Xn</text><text class="n" y="2.5"><tspan x="1087">-1</tspan><tspan x="1103">0</tspan><tspan x="1119">0</tspan><tspan x="1135">-1</tspan></text><text class="tot" x="1157" y="2.5">-2</text></g>
<g id="t69" transform="translate(0,1518.25)"><use href="#tt" x="979"/><text class="cx" x="1003" y="3">CUSTO ÓPTIMO+Xn</text><text class="n" y="2.5"><tspan x="1087">-1</tspan><tspan x="1103">0</tspan><tspan x="1119">-1</tspan><tspan x="1135">1</tspan></text><text class="tot" x="1157" y="2.5">-1</text></g>
<g id="t70" transform="translate(0,1539.3)"><use href="#tt" x="979"/><text class="cx" x="1003" y="3">CUSTO ÓPTIMO+Xn</text><text class="n" y="2.5"><tspan x="1087">-1</tspan><tspan x="1103">0</tspan><tspan x="1119">-1</tspan><tspan x="1135">0</tspan></text><text class="tot" x="1157" y="2.5">-2</text></g>
<g id="t71" transform="translate(0,1560.35)"><use href="#tt" x="979"/><text class="cx" x="1003" y="3">CUSTO ÓPTIMO+Xn</text><text class="n" y="2.5"><tspan x="1087">-1</tspan><tspan x="1103">0</tspan><tspan x="1119">-1</tspan><tspan x="1135">-1</tspan></text><text class="tot" x="1157" y="2.5">-3</text></g>
<g id="t72" transform="translate(0,1581.4)"><use href="#tt" x="979"/><text class="cx" x="1003" y="3">CUSTO ÓPTIMO+Xn</text><text class="n" y="2.5"><tspan x="1087">-1</tspan><tspan x="1103">-1</tspan><tspan x="1119">1</tspan><tspan x="1135">1</tspan></text><text class="tot" x="1157" y="2.5">0</text></g>
<g id="t73" transform="translate(0,1602.45)"><use href="#tt" x="979"/><text class="cx" x="1003" y="3">CUSTO ÓPTIMO+Xn</text><text class="n" y="2.5"><tspan x="1087">-1</tspan><tspan x="1103">-1</tspan><tspan x="1119">1</tspan><tspan x="1135">0</tspan></text><text class="tot" x="1157" y="2.5">-1</text></g>
<g id="t74" transform="translate(0,1623.5)"><use href="#tt" x="979"/><text class="cx" x="1003" y="3">CUSTO ÓPTIMO+Xn</text><text class="n" y="2.5"><tspan x="1087">-1</tspan><tspan x="1103">-1</tspan><tspan x="1119">1</tspan><tspan x="1135">-1</tspan></text><text class="tot" x="1157" y="2.5">-2</text></g>
<g id="t75" transform="translate(0,1644.55)"><use href="#tt" x="979"/><text class="cx" x="1003" y="3">CUSTO ÓPTIMO+Xn</text><text class="n" y="2.5"><tspan x="1087">-1</tspan><tspan x="1103">-1</tspan><tspan x="1119">0</tspan><tspan x="1135">1</tspan></text><text class="tot" x="1157" y="2.5">-1</text></g>
<g id="t76" transform="translate(0,1665.6)"><use href="#tt" x="979"/><text class="cx" x="1003" y="3">CUSTO ÓPTIMO+Xn</text><text class="n" y="2.5"><tspan x="1087">-1</tspan><tspan x="1103">-1</tspan><tspan x="1119">0</tspan><tspan x="1135">0</tspan></text><text class="tot" x="1157" y="2.5">-2</text></g>
<g id="t77" transform="translate(0,1686.65)"><use href="#tt" x="979"/><text class="cx" x="1003" y="3">CUSTO ÓPTIMO+Xn</text><text class="n" y="2.5"><tspan x="1087">-1</tspan><tspan x="1103">-1</tspan><tspan x="1119">0</tspan><tspan x="1135">-1</tspan></text><text class="tot" x="1157" y="2.5">-3</text></g>
<g id="t78" transform="translate(0,1707.7)"><use href="#tt" x="979"/><text class="cx" x="1003" y="3">CUSTO ÓPTIMO+Xn</text><text class="n" y="2.5"><tspan x="1087">-1</tspan><tspan x="1103">-1</tspan><tspan x="1119">-1</tspan><tspan x="1135">1</tspan></text><text class="tot" x="1157" y="2.5">-2</text></g>
<g id="t79" transform="translate(0,1728.75)"><use href="#tt" x="979"/><text class="cx" x="1003" y="3">CUSTO ÓPTIMO+Xn</text><text class="n" y="2.5"><tspan x="1087">-1</tspan><tspan x="1103">-1</tspan><tspan x="1119">-1</tspan><tspan x="1135">0</tspan></text><text class="tot" x="1157" y="2.5">-3</text></g>
<g id="t80" transform="translate(0,1749.8)"><use href="#tt" x="979"/><text class="cx" x="1003" y="3">CUSTO ÓPTIMO+Xn</text><text class="n" y="2.5"><tspan x="1087">-1</tspan><tspan x="1103">-1</tspan><tspan x="1119">-1</tspan><tspan x="1135">-1</tspan></text><text class="tot" x="1157" y="2.5">-4</text></g>
</g>
<g id="legend">
<text class="lk" x="17" y="1765">Legenda:</text>
<rect x="77.5" y="1761.5" width="8" height="7" fill="none" stroke="#555" stroke-width="0.8"/>
<text class="lg" x="88" y="1766.5">Nó de decisão</text>
<circle cx="81.5" cy="1774" r="5" fill="#fff" stroke="#000"/>
<text class="lg" x="88" y="1778.5">Nó de acaso</text>
<path d="M77,1786.5L83,1780V1793Z" fill="#fff" stroke="#000"/>
<text class="lg" x="88" y="1790.5">Consequência</text>
<text class="lk" x="205" y="1765">AP</text>
<text class="lg" x="228" y="1766" textLength="68" lengthAdjust="spacingAndGlyphs">Opção Optima de</text>
<text class="lb" x="302" y="1763" textLength="30" lengthAdjust="spacingAndGlyphs">Acordo</text>
<text class="lg" x="339" y="1766" textLength="27" lengthAdjust="spacingAndGlyphs">com os</text>
<text class="lb" x="373" y="1763" textLength="30" lengthAdjust="spacingAndGlyphs">Peritos</text>
<text class="lk" x="205" y="1777.5">DP</text>
<text class="lg" x="228" y="1779" textLength="21" lengthAdjust="spacingAndGlyphs">Opção</text>
<text class="lb" x="252" y="1777" textLength="50" lengthAdjust="spacingAndGlyphs">Divergente</text>
<text class="lg" x="309" y="1779" textLength="27" lengthAdjust="spacingAndGlyphs">com os</text>
<text class="lb" x="344" y="1777" textLength="30" lengthAdjust="spacingAndGlyphs">Peritos</text>
<text class="lk" x="560" y="1765" text-anchor="end">1</text>
<text class="lg" x="567" y="1765">Melhora a ferida</text>
<text class="lk" x="560" y="1778" text-anchor="end">0</text>
<text class="lg" x="567" y="1778">Mantem a ferida no mesmo estado</text>
<text class="lk" x="560" y="1791" text-anchor="end">-1</text>
<text class="lg" x="567" y="1791">Piora a ferida</text>
</g>
</svg>
